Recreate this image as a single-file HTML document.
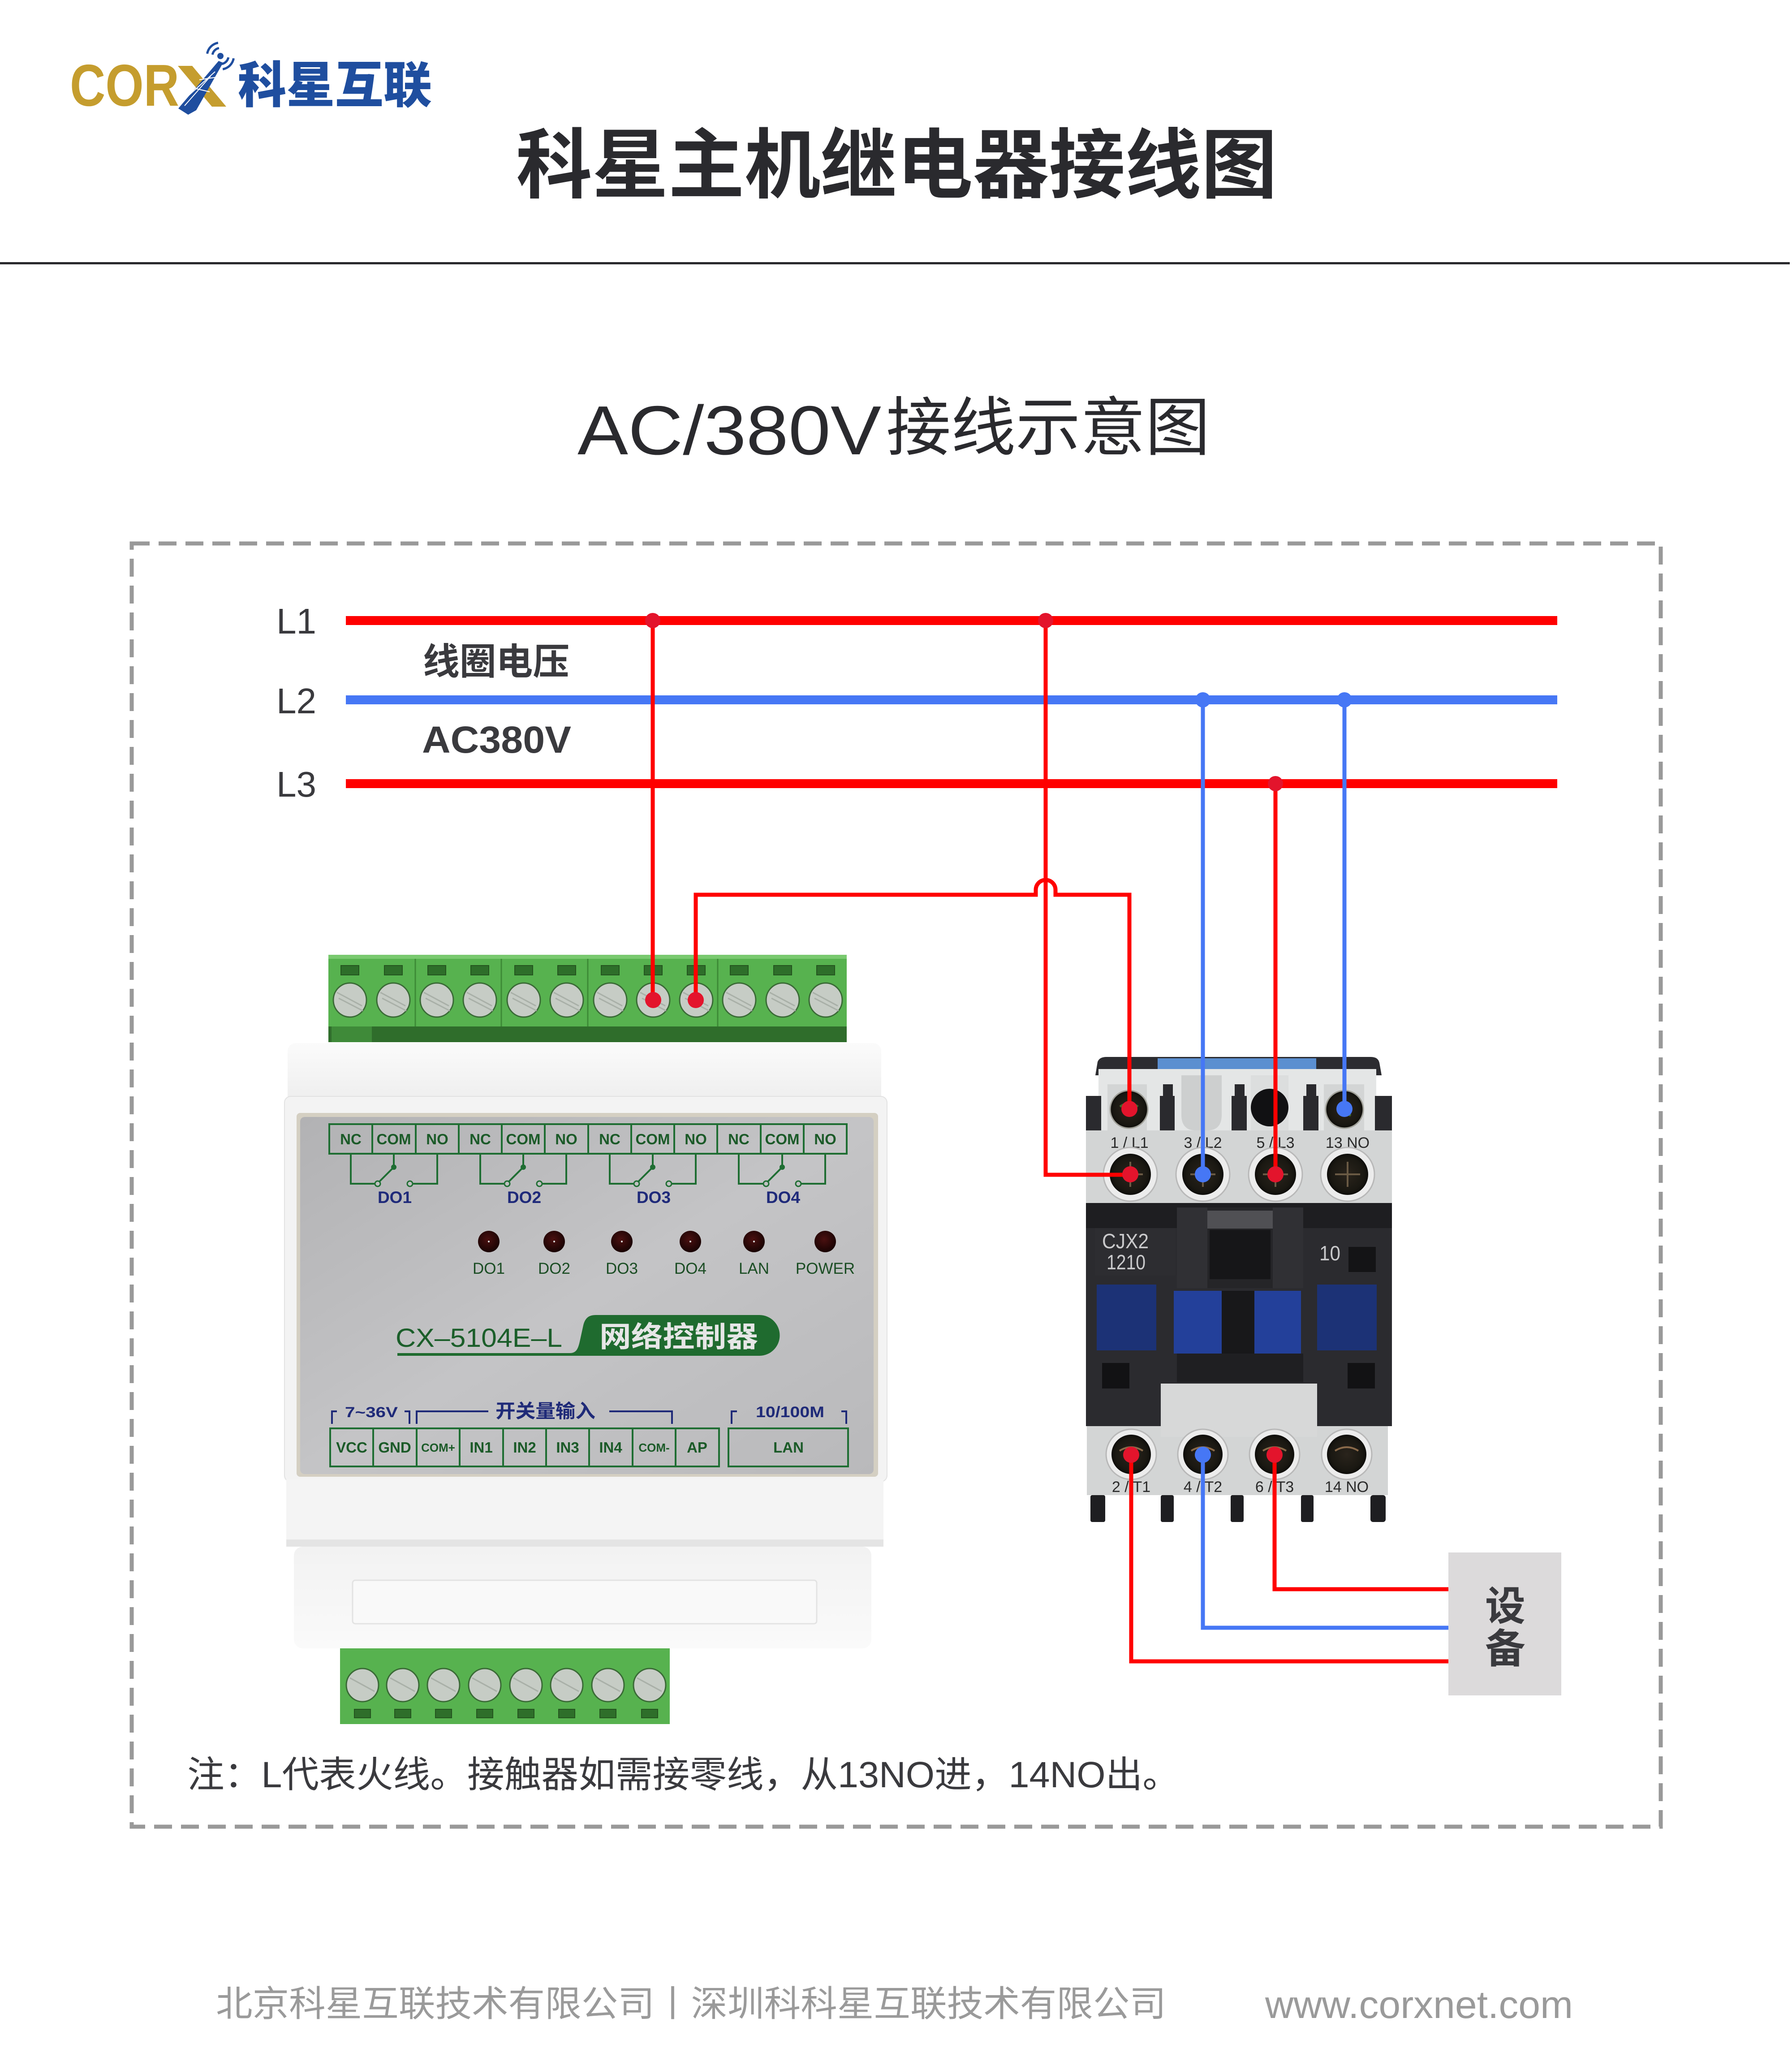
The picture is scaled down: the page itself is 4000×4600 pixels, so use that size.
<!DOCTYPE html>
<html><head><meta charset="utf-8">
<style>
html,body{margin:0;padding:0;background:#fff;}
body{width:4000px;height:4600px;overflow:hidden;}
svg{display:block;}
text{font-family:"Liberation Sans","Noto Sans CJK SC",sans-serif;}
</style></head><body>
<svg width="4000" height="4600" viewBox="0 0 4000 4600" xmlns="http://www.w3.org/2000/svg">
<defs>
<linearGradient id="plate" x1="0" y1="0" x2="1" y2="1">
<stop offset="0" stop-color="#b2b2b4"/><stop offset="0.5" stop-color="#c4c4c6"/><stop offset="1" stop-color="#b9b9bb"/>
</linearGradient>
<radialGradient id="led" cx="0.45" cy="0.4" r="0.6"><stop offset="0" stop-color="#4a1010"/><stop offset="1" stop-color="#180303"/></radialGradient>
<linearGradient id="whiteA" x1="0" y1="0" x2="0" y2="1"><stop offset="0" stop-color="#fbfbfb"/><stop offset="1" stop-color="#ededed"/></linearGradient>
<linearGradient id="whiteD" x1="0" y1="0" x2="0" y2="1"><stop offset="0" stop-color="#f2f2f2"/><stop offset="1" stop-color="#fafafa"/></linearGradient>
<radialGradient id="scr" cx="0.5" cy="0.5" r="0.5"><stop offset="0" stop-color="#2a241c"/><stop offset="0.8" stop-color="#1a1812"/><stop offset="1" stop-color="#0e0d0a"/></radialGradient>
</defs>
<rect width="4000" height="4600" fill="#fff"/>

<!-- LOGO -->
<text x="156" y="236" font-size="132" font-weight="700" fill="#c59d2e" textLength="244" lengthAdjust="spacingAndGlyphs">COR</text>
<polygon points="397,147 429,147 505,238 473,238" fill="#c59d2e"/>
<polygon points="398,242 420,256 438,246 498,140 488,136" fill="#1f4e9f"/>
<path d="M412,236 L470,170 M420,214 L480,160 M430,196 L468,205 M445,178 L485,172" stroke="#fff" stroke-width="2" fill="none"/>
<circle cx="492" cy="125" r="7" fill="#1f4e9f"/>
<path d="M462.5,119.8 A30,30 0 0 1 486.8,95.5 M474.3,121.9 A18,18 0 0 1 488.9,107.3 M521.5,130.2 A30,30 0 0 1 497.2,154.5 M509.7,128.1 A18,18 0 0 1 495.1,142.7" stroke="#1f4e9f" stroke-width="5" fill="none"/>
<text x="531" y="229" font-size="110" font-weight="900" fill="#1f4e9f" textLength="433" lengthAdjust="spacingAndGlyphs">科星互联</text>

<!-- TITLE -->
<text x="1152" y="428" font-size="170" font-weight="700" fill="#2a2a2e" textLength="1699" lengthAdjust="spacingAndGlyphs">科星主机继电器接线图</text>
<rect x="0" y="585" width="3995" height="5" fill="#2a2a2e"/>
<text x="1289" y="1014" font-size="155" fill="#2a2a2e" textLength="678" lengthAdjust="spacingAndGlyphs">AC/380V</text>
<text x="1978" y="1004" font-size="143" fill="#2a2a2e" textLength="723" lengthAdjust="spacingAndGlyphs">接线示意图</text>

<!-- DASHED FRAME -->
<rect x="294" y="1213" width="3413" height="2864" fill="none" stroke="#999" stroke-width="9" stroke-dasharray="40 20"/>

<!-- BUS LABELS -->
<text x="617" y="1414" font-size="80" fill="#3a3a3e">L1</text>
<text x="617" y="1592" font-size="80" fill="#3a3a3e">L2</text>
<text x="617" y="1778" font-size="80" fill="#3a3a3e">L3</text>
<text x="944" y="1505" font-size="82" font-weight="700" fill="#3a3a3e" textLength="327" lengthAdjust="spacingAndGlyphs">线圈电压</text>
<text x="942" y="1680" font-size="84" font-weight="700" fill="#3a3a3e" textLength="333" lengthAdjust="spacingAndGlyphs">AC380V</text>

<rect x="772" y="1375" width="2704" height="20" fill="#ff0000"/>
<rect x="772" y="1552" width="2704" height="20" fill="#4677f5"/>
<rect x="772" y="1739" width="2704" height="20" fill="#ff0000"/>

<!-- CONTROLLER: top green block -->
<g>
<rect x="733" y="2131" width="1157" height="195" fill="#57b24f"/>
<rect x="733" y="2131" width="1157" height="9" fill="#79c96f"/>
<rect x="733" y="2291" width="1157" height="35" fill="#2f6d2b"/>
<rect x="740" y="2291" width="90" height="35" fill="#3f8a39"/>
<path d="M927,2140V2291 M1119,2140V2291 M1312,2140V2291 M1602,2140V2291" stroke="#3c8a36" stroke-width="3"/>
<g fill="#2e6e2a" stroke="#24551f" stroke-width="2">
<rect x="761" y="2155" width="40" height="21"/><rect x="858" y="2155" width="40" height="21"/><rect x="955" y="2155" width="40" height="21"/><rect x="1051" y="2155" width="40" height="21"/>
<rect x="1149" y="2155" width="40" height="21"/><rect x="1245" y="2155" width="40" height="21"/><rect x="1342" y="2155" width="40" height="21"/><rect x="1438" y="2155" width="40" height="21"/>
<rect x="1534" y="2155" width="40" height="21"/><rect x="1630" y="2155" width="40" height="21"/><rect x="1727" y="2155" width="40" height="21"/><rect x="1823" y="2155" width="40" height="21"/>
</g>
<g fill="#c6ccc5" stroke="#3a6a36" stroke-width="3">
<ellipse cx="781" cy="2232" rx="37" ry="38"/><ellipse cx="878" cy="2232" rx="37" ry="38"/><ellipse cx="975" cy="2232" rx="37" ry="38"/><ellipse cx="1071" cy="2232" rx="37" ry="38"/>
<ellipse cx="1169" cy="2232" rx="37" ry="38"/><ellipse cx="1265" cy="2232" rx="37" ry="38"/><ellipse cx="1362" cy="2232" rx="37" ry="38"/><ellipse cx="1458" cy="2232" rx="37" ry="38"/>
<ellipse cx="1554" cy="2232" rx="37" ry="38"/><ellipse cx="1650" cy="2232" rx="37" ry="38"/><ellipse cx="1747" cy="2232" rx="37" ry="38"/><ellipse cx="1843" cy="2232" rx="37" ry="38"/>
</g>
<g stroke="#a9b0a8" stroke-width="3">
<path d="M752,2215 L808,2245 M756,2228 L810,2256"/><path d="M849,2215 L905,2245 M853,2228 L907,2256"/><path d="M946,2215 L1002,2245 M950,2228 L1004,2256"/><path d="M1042,2215 L1098,2245 M1046,2228 L1100,2256"/>
<path d="M1140,2215 L1196,2245 M1144,2228 L1198,2256"/><path d="M1236,2215 L1292,2245 M1240,2228 L1294,2256"/><path d="M1333,2215 L1389,2245 M1337,2228 L1391,2256"/><path d="M1429,2215 L1485,2245 M1433,2228 L1487,2256"/>
<path d="M1525,2215 L1581,2245 M1529,2228 L1583,2256"/><path d="M1621,2215 L1677,2245 M1625,2228 L1679,2256"/><path d="M1718,2215 L1774,2245 M1722,2228 L1776,2256"/><path d="M1814,2215 L1870,2245 M1818,2228 L1872,2256"/>
</g>
</g>

<!-- white body -->
<rect x="642" y="2328" width="1325" height="140" rx="18" fill="url(#whiteA)"/>
<rect x="635" y="2447" width="1345" height="860" rx="14" fill="#f3f3f3" stroke="#e2e2e2" stroke-width="2"/>
<rect x="662" y="2484" width="1298" height="812" rx="8" fill="#d4cfc2"/>
<rect x="670" y="2493" width="1280" height="797" rx="10" fill="url(#plate)"/>
<rect x="639" y="3300" width="1333" height="140" fill="#f4f4f4"/>
<rect x="639" y="3436" width="1333" height="16" fill="#e4e4e4"/>
<rect x="656" y="3452" width="1289" height="227" rx="20" fill="url(#whiteD)"/>
<rect x="787" y="3527" width="1036" height="97" rx="6" fill="#f9f9f9" stroke="#e3e3e3" stroke-width="3"/>

<!-- bottom green block -->
<g>
<rect x="759" y="3679" width="736" height="169" fill="#57b24f"/>
<g fill="#c6ccc5" stroke="#3a6a36" stroke-width="3">
<ellipse cx="809" cy="3761" rx="36" ry="37"/><ellipse cx="899" cy="3761" rx="36" ry="37"/><ellipse cx="990" cy="3761" rx="36" ry="37"/><ellipse cx="1082" cy="3761" rx="36" ry="37"/>
<ellipse cx="1174" cy="3761" rx="36" ry="37"/><ellipse cx="1265" cy="3761" rx="36" ry="37"/><ellipse cx="1357" cy="3761" rx="36" ry="37"/><ellipse cx="1450" cy="3761" rx="36" ry="37"/>
</g>
<g stroke="#a9b0a8" stroke-width="3">
<path d="M781,3745 L836,3775"/><path d="M871,3745 L926,3775"/><path d="M962,3745 L1017,3775"/><path d="M1054,3745 L1109,3775"/>
<path d="M1146,3745 L1201,3775"/><path d="M1237,3745 L1292,3775"/><path d="M1329,3745 L1384,3775"/><path d="M1422,3745 L1477,3775"/>
</g>
<g fill="#2e6e2a" stroke="#24551f" stroke-width="2">
<rect x="791" y="3815" width="36" height="19"/><rect x="881" y="3815" width="36" height="19"/><rect x="972" y="3815" width="36" height="19"/><rect x="1064" y="3815" width="36" height="19"/>
<rect x="1156" y="3815" width="36" height="19"/><rect x="1247" y="3815" width="36" height="19"/><rect x="1339" y="3815" width="36" height="19"/><rect x="1432" y="3815" width="36" height="19"/>
</g>
</g>

<!-- plate: top terminal table -->
<g fill="none" stroke="#1f6e33" stroke-width="4">
<rect x="735" y="2509" width="1155" height="66"/>
<path d="M831,2509V2575 M928,2509V2575 M1024,2509V2575 M1120,2509V2575 M1216,2509V2575 M1313,2509V2575 M1409,2509V2575 M1505,2509V2575 M1601,2509V2575 M1698,2509V2575 M1794,2509V2575"/>
<path d="M783,2575V2642H837 M879,2575V2605 L847,2637 M976,2575V2642H921"/>
<path d="M1072,2575V2642H1126 M1168,2575V2605 L1136,2637 M1264,2575V2642H1210"/>
<path d="M1361,2575V2642H1415 M1457,2575V2605 L1425,2637 M1553,2575V2642H1499"/>
<path d="M1649,2575V2642H1704 M1746,2575V2605 L1714,2637 M1842,2575V2642H1788"/>
</g>
<g fill="#c0c0c2" stroke="#1f6e33" stroke-width="3">
<circle cx="843" cy="2642" r="6"/><circle cx="915" cy="2642" r="6"/>
<circle cx="1132" cy="2642" r="6"/><circle cx="1204" cy="2642" r="6"/>
<circle cx="1421" cy="2642" r="6"/><circle cx="1493" cy="2642" r="6"/>
<circle cx="1710" cy="2642" r="6"/><circle cx="1782" cy="2642" r="6"/>
</g>
<g fill="#1f6e33">
<circle cx="879" cy="2605" r="6"/><circle cx="1168" cy="2605" r="6"/><circle cx="1457" cy="2605" r="6"/><circle cx="1746" cy="2605" r="6"/>
</g>
<g font-size="33" font-weight="700" fill="#1b5a28" text-anchor="middle">
<text x="783" y="2554">NC</text><text x="879" y="2554">COM</text><text x="976" y="2554">NO</text>
<text x="1072" y="2554">NC</text><text x="1168" y="2554">COM</text><text x="1264" y="2554">NO</text>
<text x="1361" y="2554">NC</text><text x="1457" y="2554">COM</text><text x="1553" y="2554">NO</text>
<text x="1649" y="2554">NC</text><text x="1746" y="2554">COM</text><text x="1842" y="2554">NO</text>
</g>
<g font-size="37" font-weight="700" fill="#1f2a7a" text-anchor="middle">
<text x="881" y="2685">DO1</text><text x="1170" y="2685">DO2</text><text x="1459" y="2685">DO3</text><text x="1748" y="2685">DO4</text>
</g>
<g fill="url(#led)">
<circle cx="1091" cy="2771" r="24"/><circle cx="1237" cy="2771" r="24"/><circle cx="1388" cy="2771" r="24"/>
<circle cx="1541" cy="2771" r="24"/><circle cx="1683" cy="2771" r="24"/><circle cx="1842" cy="2771" r="24"/>
</g>
<g fill="#ddd">
<circle cx="1091" cy="2771" r="2"/><circle cx="1237" cy="2771" r="2"/><circle cx="1388" cy="2771" r="2"/><circle cx="1541" cy="2771" r="2"/><circle cx="1683" cy="2771" r="2"/>
</g>
<g font-size="35" fill="#1b4d24" text-anchor="middle">
<text x="1091" y="2843">DO1</text><text x="1237" y="2843">DO2</text><text x="1388" y="2843">DO3</text>
<text x="1541" y="2843">DO4</text><text x="1683" y="2843">LAN</text><text x="1842" y="2843">POWER</text>
</g>
<text x="883" y="3006" font-size="58" fill="#1b5e2a" textLength="372" lengthAdjust="spacingAndGlyphs">CX–5104E–L</text>
<path d="M887,3020 L1272,3020 C1288,3020 1291,3008 1295,2990 L1302,2958 C1306,2942 1314,2935 1330,2935 L1695,2935 A45,45 0 0 1 1695,3026 L887,3026 Z" fill="#1f6b2f"/>
<text x="1338" y="3006" font-size="64" font-weight="700" fill="#e6e6e6" textLength="354" lengthAdjust="spacingAndGlyphs">网络控制器</text>
<g fill="none" stroke="#1f2a78" stroke-width="4">
<path d="M741,3178V3150H752 M903,3150H914V3178 M930,3178V3150H1090 M1360,3150H1500V3178 M1633,3178V3150H1645 M1878,3150H1889V3178"/>
</g>
<text x="770" y="3163" font-size="32" font-weight="700" fill="#1f2a78" textLength="118" lengthAdjust="spacingAndGlyphs">7~36V</text>
<text x="1106" y="3164" font-size="42" font-weight="700" fill="#1f2a78" textLength="223" lengthAdjust="spacingAndGlyphs">开关量输入</text>
<text x="1687" y="3163" font-size="34" font-weight="700" fill="#1f2a78" textLength="153" lengthAdjust="spacingAndGlyphs">10/100M</text>
<g fill="none" stroke="#1f6e33" stroke-width="4">
<rect x="737" y="3188" width="868" height="85"/>
<path d="M833,3188V3273 M930,3188V3273 M1026,3188V3273 M1123,3188V3273 M1219,3188V3273 M1315,3188V3273 M1412,3188V3273 M1508,3188V3273"/>
<rect x="1626" y="3188" width="267" height="85"/>
</g>
<g font-size="33" font-weight="700" fill="#1b5a28" text-anchor="middle">
<text x="785" y="3242">VCC</text><text x="881" y="3242">GND</text><text x="978" y="3240" font-size="26">COM+</text>
<text x="1074" y="3242">IN1</text><text x="1171" y="3242">IN2</text><text x="1267" y="3242">IN3</text><text x="1363" y="3242">IN4</text>
<text x="1460" y="3240" font-size="26">COM-</text><text x="1556" y="3242">AP</text><text x="1760" y="3242">LAN</text>
</g>

<!-- CONTACTOR -->
<g>
<path d="M2445,2400 L2450,2370 Q2454,2359 2470,2359 L3060,2359 Q3076,2359 3079,2372 L3084,2400 Z" fill="#2c2c30"/>
<rect x="2584" y="2362" width="354" height="28" fill="#5b8fd0"/>
<rect x="2452" y="2386" width="620" height="140" fill="#e4e6e6"/>
<rect x="2424" y="2446" width="34" height="80" fill="#2a2a2e"/>
<rect x="3069" y="2446" width="38" height="80" fill="#2a2a2e"/>
<rect x="2472" y="2420" width="88" height="104" fill="#d3d5d5"/>
<rect x="2955" y="2420" width="90" height="104" fill="#d3d5d5"/>
<g fill="#2a2a2e">
<rect x="2589" y="2446" width="33" height="78"/><rect x="2596" y="2420" width="22" height="28"/>
<rect x="2749" y="2446" width="34" height="78"/><rect x="2756" y="2420" width="22" height="28"/>
<rect x="2909" y="2446" width="34" height="78"/><rect x="2916" y="2420" width="22" height="28"/>
</g>
<path d="M2637,2400 H2727 V2488 Q2727,2523 2695,2523 H2669 Q2637,2523 2637,2488 Z" fill="#cdcfcf"/>
<rect x="2792" y="2400" width="84" height="124" fill="#dcdede"/>
<circle cx="2834" cy="2472" r="42" fill="#111113"/>
<circle cx="2520" cy="2476" r="42" fill="url(#scr)" stroke="#a0a098" stroke-width="3"/>
<circle cx="3001" cy="2476" r="42" fill="url(#scr)" stroke="#a0a098" stroke-width="3"/>
<path d="M2500,2470 Q2520,2455 2540,2470 M2985,2470 L3015,2490" stroke="#3d6b2a" stroke-width="5" fill="none"/>
<rect x="2424" y="2523" width="683" height="162" fill="#d3d5d5"/>
<g font-size="34" fill="#2a2a2a" text-anchor="middle">
<text x="2521" y="2562">1 / L1</text><text x="2685" y="2562">3 / L2</text><text x="2847" y="2562">5 / L3</text><text x="3008" y="2562">13 NO</text>
</g>
<g fill="#ececec" stroke="#b8b8b8" stroke-width="3">
<circle cx="2523" cy="2621" r="60"/><circle cx="2685" cy="2621" r="60"/><circle cx="2847" cy="2621" r="60"/><circle cx="3008" cy="2621" r="60"/>
</g>
<g fill="url(#scr)">
<circle cx="2523" cy="2621" r="46"/><circle cx="2685" cy="2621" r="46"/><circle cx="2847" cy="2621" r="46"/><circle cx="3008" cy="2621" r="46"/>
</g>
<g stroke="#6a5a44" stroke-width="4" fill="none">
<path d="M2495,2621H2551M2523,2593V2649"/><path d="M2657,2621H2713M2685,2593V2649"/><path d="M2819,2621H2875M2847,2593V2649"/><path d="M2980,2621H3036M3008,2593V2649"/>
</g>
<rect x="2424" y="2685" width="683" height="498" fill="#2b2b2f"/>
<rect x="2424" y="2685" width="683" height="56" fill="#1e1e21"/>
<rect x="2444" y="2741" width="180" height="106" fill="#2d2d31"/>
<text x="2460" y="2786" font-size="46" fill="#c9c9cb" textLength="104" lengthAdjust="spacingAndGlyphs">CJX2</text>
<text x="2470" y="2833" font-size="46" fill="#c9c9cb" textLength="87" lengthAdjust="spacingAndGlyphs">1210</text>
<text x="2945" y="2813" font-size="46" fill="#c9c9cb" textLength="47" lengthAdjust="spacingAndGlyphs">10</text>
<rect x="3010" y="2783" width="61" height="56" fill="#141416"/>
<rect x="2627" y="2695" width="282" height="180" fill="#252528"/>
<rect x="2627" y="2695" width="68" height="180" fill="#303034"/>
<rect x="2841" y="2695" width="68" height="180" fill="#303034"/>
<rect x="2695" y="2702" width="146" height="40" fill="#505054"/>
<rect x="2700" y="2745" width="136" height="110" fill="#161618"/>
<rect x="2448" y="2867" width="133" height="147" fill="#1c3276"/>
<rect x="2940" y="2867" width="133" height="147" fill="#1c3276"/>
<rect x="2620" y="2881" width="107" height="140" fill="#23409a"/>
<rect x="2800" y="2881" width="104" height="140" fill="#23409a"/>
<rect x="2727" y="2881" width="73" height="140" fill="#18181a"/>
<rect x="2627" y="3021" width="282" height="64" fill="#1f1f22"/>
<rect x="2460" y="3042" width="61" height="57" fill="#121214"/>
<rect x="3008" y="3042" width="61" height="57" fill="#121214"/>
<rect x="2426" y="3183" width="672" height="154" fill="#d3d5d5"/>
<rect x="2591" y="3088" width="349" height="119" fill="#d7d8d8"/>
<g fill="#ececec" stroke="#b8b8b8" stroke-width="3">
<circle cx="2525" cy="3246" r="56"/><circle cx="2685" cy="3246" r="56"/><circle cx="2845" cy="3246" r="56"/><circle cx="3006" cy="3246" r="56"/>
</g>
<g fill="url(#scr)">
<circle cx="2525" cy="3246" r="44"/><circle cx="2685" cy="3246" r="44"/><circle cx="2845" cy="3246" r="44"/><circle cx="3006" cy="3246" r="44"/>
</g>
<g stroke="#8a6a4a" stroke-width="4" fill="none">
<path d="M2499,3238 Q2525,3222 2551,3238"/><path d="M2659,3238 Q2685,3222 2711,3238"/><path d="M2819,3238 Q2845,3222 2871,3238"/><path d="M2980,3238 Q3006,3222 3032,3238"/>
</g>
<g font-size="34" fill="#2a2a2a" text-anchor="middle">
<text x="2525" y="3330">2 / T1</text><text x="2685" y="3330">4 / T2</text><text x="2845" y="3330">6 / T3</text><text x="3006" y="3330">14 NO</text>
</g>
<g fill="#1e1e21">
<rect x="2434" y="3337" width="33" height="60" rx="4"/><rect x="2591" y="3337" width="29" height="60" rx="4"/>
<rect x="2747" y="3337" width="29" height="60" rx="4"/><rect x="2904" y="3337" width="28" height="60" rx="4"/>
<rect x="3059" y="3337" width="34" height="60" rx="6"/>
</g>
</g>

<!-- WIRES -->
<g fill="none" stroke-width="9" stroke-linejoin="miter">
<path d="M1457,1385V2232" stroke="#ff0000"/>
<path d="M1553,2232V1997H2312V1986A22,22 0 0 1 2356,1986V1997H2521V2475" stroke="#ff0000"/>
<path d="M2334,1385V2622H2523" stroke="#ff0000"/>
<path d="M2685,1562V2621" stroke="#4677f5"/>
<path d="M3001,1562V2475" stroke="#4677f5"/>
<path d="M2847,1749V2621" stroke="#ff0000"/>
<path d="M2525,3247V3708H3233" stroke="#ff0000"/>
<path d="M2685,3247V3633H3233" stroke="#4677f5"/>
<path d="M2845,3247V3547H3233" stroke="#ff0000"/>
</g>
<g fill="#e3142c">
<circle cx="1457" cy="1385" r="17"/><circle cx="2334" cy="1385" r="17"/><circle cx="2847" cy="1749" r="17"/>
<circle cx="1458" cy="2232" r="18"/><circle cx="1553" cy="2232" r="18"/>
<circle cx="2521" cy="2475" r="18"/><circle cx="2523" cy="2621" r="18"/><circle cx="2847" cy="2621" r="18"/>
<circle cx="2525" cy="3247" r="18"/><circle cx="2845" cy="3247" r="18"/>
</g>
<g fill="#4677f5">
<circle cx="2685" cy="1562" r="17"/><circle cx="3001" cy="1562" r="17"/>
<circle cx="2685" cy="2621" r="18"/><circle cx="3001" cy="2475" r="18"/><circle cx="2685" cy="3247" r="18"/>
</g>

<!-- DEVICE -->
<rect x="3233" y="3465" width="252" height="319" fill="#dcdadb"/>
<text x="3360" y="3616" font-size="90" fill="#3a3a3e" text-anchor="middle" font-weight="700">设</text>
<text x="3360" y="3711" font-size="90" fill="#3a3a3e" text-anchor="middle" font-weight="700">备</text>

<!-- NOTE -->
<text x="418" y="3989" font-size="82" fill="#3a3a3e" textLength="2215" lengthAdjust="spacingAndGlyphs">注：L代表火线。接触器如需接零线，从13NO进，14NO出。</text>

<!-- FOOTER -->
<text x="482" y="4500" font-size="80" fill="#9a9a9a" textLength="2121" lengthAdjust="spacingAndGlyphs">北京科星互联技术有限公司丨深圳科科星互联技术有限公司</text>
<text x="2824" y="4504" font-size="86" fill="#9a9a9a" textLength="687" lengthAdjust="spacingAndGlyphs">www.corxnet.com</text>
</svg>
</body></html>
